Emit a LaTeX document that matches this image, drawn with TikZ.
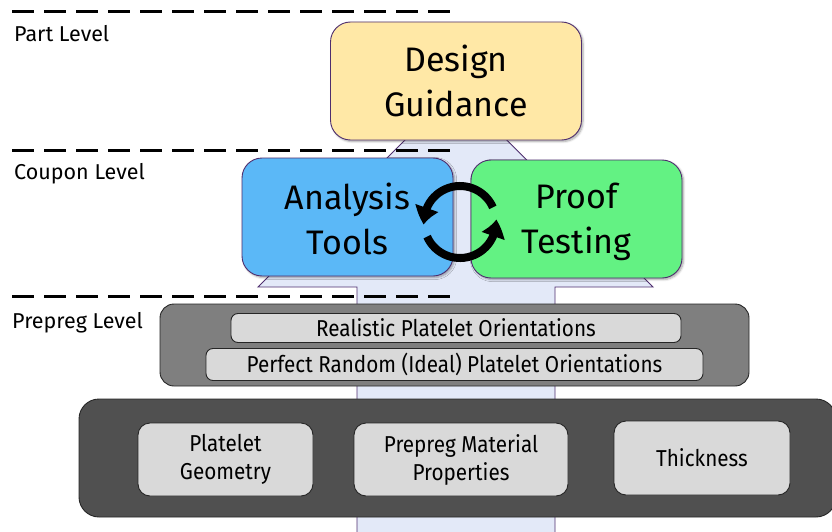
\documentclass[tikz,border=0pt]{standalone}
\usepackage{fontspec}
\setmainfont{Fira Sans}
\newfontfamily\narrowfont{Fira Sans}[FakeStretch=0.9]
\usetikzlibrary{arrows.meta,bending,shadows.blur}

\definecolor{designfill}{HTML}{FFE8A6}
\definecolor{analysisfill}{HTML}{5BB8F7}
\definecolor{prooffill}{HTML}{63F283}
\definecolor{shaftfill}{HTML}{E3E9F8}
\definecolor{purpleline}{HTML}{4E2E6E}
\definecolor{midgray}{HTML}{7F7F7F}
\definecolor{darkgray}{HTML}{505050}
\definecolor{lightgray}{HTML}{D9D9D9}

\tikzset{
  levelline/.style={line width=3pt, dash pattern=on 22pt off 10pt},
  levellabel/.style={anchor=base west, inner sep=0pt, font=\fontsize{21.5}{25}\selectfont},
  stagebox/.style={draw=purpleline, line width=0.9pt, rounded corners=20pt,
    minimum width=211pt, minimum height=118pt,
    blur shadow={shadow xshift=1.5pt, shadow yshift=-1.5pt, shadow blur steps=6, shadow opacity=35}},
  stagetext/.style={align=center, inner sep=0pt, font=\fontsize{34}{45}\selectfont},
  groupbox/.style={draw=black!85, line width=0.9pt, rounded corners=14pt},
  itembox/.style={draw=black!85, line width=0.9pt, fill=lightgray, rounded corners=7pt,
    align=center, font=\narrowfont\fontsize{23}{28}\selectfont},
  cyclearrow/.style={line width=8pt, -{Triangle[length=17pt, width=23pt, bend]}}
}

\begin{document}
\begin{tikzpicture}[x=1pt, y=-1pt]
\useasboundingbox (0,0) rectangle (832,532);

% broad upward arrow behind the levels
\draw[fill=shaftfill, draw=purpleline, line width=0.9pt]
  (357,545) -- (357,287) -- (258,287) -- (456,89) -- (653,287)
  -- (555,287) -- (555,545);

% level separators and labels
\draw[levelline] (12,12) -- (455,12);
\draw[levelline] (12,150) -- (455,150);
\draw[levelline] (12,296) -- (455,296);
\node[levellabel] (partlbl) at (14,42) {Part Level};
\node[levellabel] (couponlbl) at (14,179) {Coupon Level};
\node[levellabel] (prepreglbl) at (12,328) {Prepreg Level};

% part level
\node[stagebox, fill=designfill, minimum width=251pt] (design) at (456,81) {};
\node[stagetext] (designtxt) at (456,85.5) {Design\strut\\Guidance\strut};

% coupon level
\node[stagebox, fill=analysisfill] (analysis) at (347.5,217) {};
\node[stagetext] (analysistxt) at (347.5,222.5) {Analysis\strut\\Tools\strut};
\node[stagebox, fill=prooffill] (proof) at (576.5,219) {};
\node[stagetext] (prooftxt) at (576.5,222) {Proof\strut\\Testing\strut};

% iteration cycle between analysis and testing
\coordinate (cyc) at (460,222);
\draw[cyclearrow] ([shift={(-24:36)}]cyc) arc[start angle=-24, end angle=-184, radius=36];
\draw[cyclearrow] ([shift={(-204:36)}]cyc) arc[start angle=-204, end angle=-364, radius=36];

% prepreg level
\draw[groupbox, fill=midgray] (160,304) rectangle (749,386);
\node[itembox, minimum width=450pt, minimum height=29pt] (realistic) at (456,328) {Realistic Platelet Orientations};
\node[itembox, minimum width=497pt, minimum height=32pt] (ideal) at (454.5,364.5) {Perfect Random (Ideal) Platelet Orientations};

% material inputs
\draw[groupbox, fill=darkgray, rounded corners=20pt] (79,399) rectangle (836,517);
\node[itembox, rounded corners=12pt, minimum width=175pt, minimum height=73pt] (geometry) at (225.5,459.5) {Platelet\\Geometry};
\node[itembox, rounded corners=12pt, minimum width=214pt, minimum height=73pt] (material) at (461,459.5) {Prepreg Material\\Properties};
\node[itembox, rounded corners=12pt, minimum width=176pt, minimum height=74pt] (thickness) at (702,458) {Thickness};
\end{tikzpicture}
\end{document}
